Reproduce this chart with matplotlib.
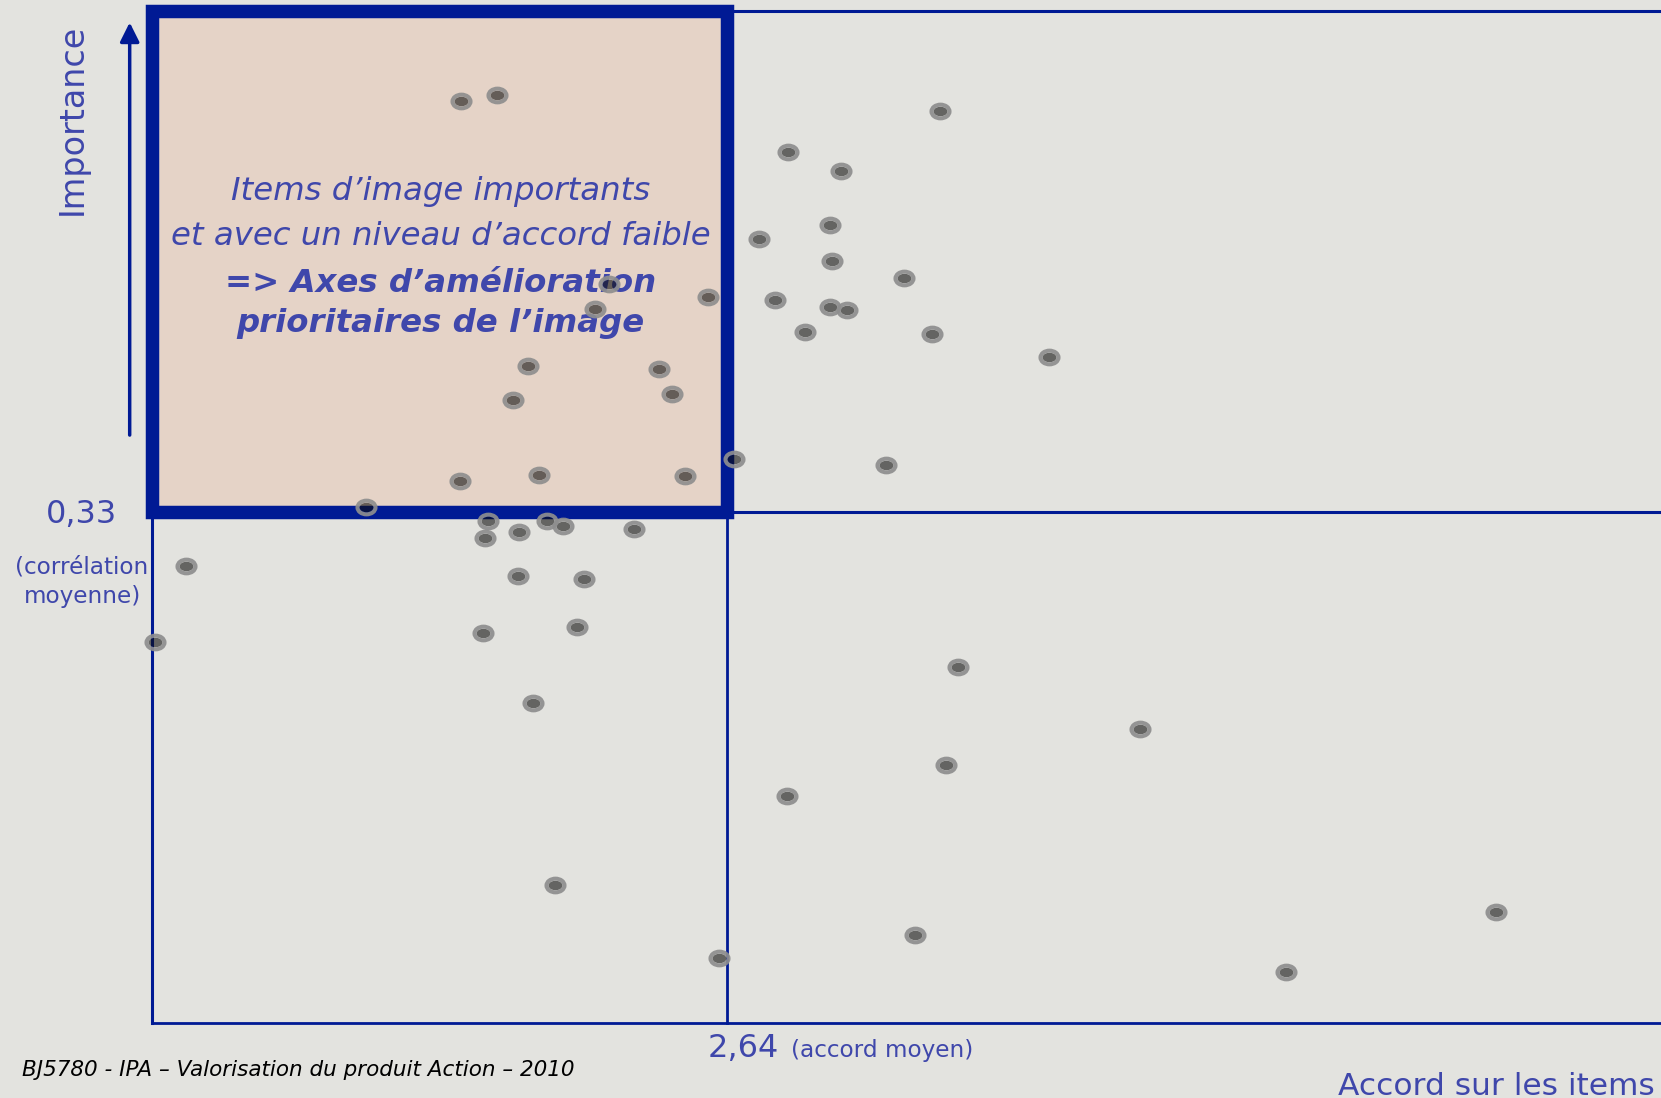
import matplotlib
matplotlib.use('Agg')
import matplotlib.pyplot as plt
from matplotlib.patches import Rectangle
from matplotlib.path import Path
from matplotlib.transforms import Affine2D

# one point per image item: mean agreement (x) and importance / correlation (y)
accord = [2.344, 2.384, 2.509, 2.493, 2.618, 2.418, 2.564, 2.402, 2.579, 2.648,
          2.343, 2.431, 2.593, 2.238, 2.877, 2.707, 2.766, 2.754, 2.675, 2.756,
          2.836, 2.693, 2.754, 2.773, 2.726, 2.868, 2.998, 2.817, 2.374, 2.439,
          2.457, 2.536, 2.371, 2.408, 2.038, 2.407, 2.481, 2.004, 2.368, 2.473,
          2.424, 2.448, 2.897, 2.883, 2.706, 2.849, 3.099, 2.631, 3.261, 3.495]
importance = [0.595, 0.599, 0.477, 0.461, 0.469, 0.424, 0.422, 0.402, 0.406, 0.364,
              0.350, 0.354, 0.353, 0.333, 0.589, 0.562, 0.550, 0.515, 0.506, 0.492,
              0.481, 0.467, 0.462, 0.460, 0.446, 0.445, 0.430, 0.360, 0.324, 0.324,
              0.321, 0.319, 0.313, 0.317, 0.295, 0.289, 0.287, 0.246, 0.252, 0.256,
              0.207, 0.089, 0.230, 0.167, 0.147, 0.057, 0.190, 0.042, 0.033, 0.072]

accord_moyen = 2.64
correlation_moyenne = 0.33
accord_label = "2,64"
correlation_label = "0,33"

x_min, x_max = 2.0, 3.70
y_min, y_max = 0.0, 0.653

navy = '#001A94'
blue = '#3F47AB'
bg = '#E3E3DF'
peach = '#E5D3C7'

plt.rcParams['font.family'] = 'DejaVu Sans'

fig = plt.figure(figsize=(16.61, 10.98), dpi=100, facecolor=bg)
ax = fig.add_axes([0, 0, 1, 1])
ax.set_facecolor(bg)
ax.set_xlim(1.8313, 3.6782)
ax.set_ylim(-0.0481, 0.6603)
ax.axis('off')

# quadrant lines
ax.plot([x_min, x_max], [y_min, y_min], color=navy, lw=2.0, zorder=2)
ax.plot([x_min, x_min], [y_min, correlation_moyenne], color=navy, lw=2.2, zorder=2)
ax.plot([accord_moyen, accord_moyen], [y_min, correlation_moyenne], color=navy, lw=2.0, zorder=2)
ax.plot([accord_moyen, x_max], [correlation_moyenne, correlation_moyenne], color=navy, lw=2.2, zorder=2)
ax.plot([accord_moyen, x_max], [y_max, y_max], color=navy, lw=2.2, zorder=2)

# highlighted quadrant
box = Rectangle((x_min, correlation_moyenne), accord_moyen - x_min, y_max - correlation_moyenne,
                facecolor=peach, edgecolor=navy, lw=9.7, joinstyle='miter', zorder=3)
ax.add_patch(box)

# axis arrows
ax.annotate('', xy=(1.9755, 0.6458), xytext=(1.9755, 0.3796),
            arrowprops=dict(arrowstyle='-|>', color=navy, lw=2.5, mutation_scale=29,
                            shrinkA=0, shrinkB=0), zorder=2)
ax.annotate('', xy=(3.694, -0.0135), xytext=(3.292, -0.0135),
            arrowprops=dict(arrowstyle='-|>', color=navy, lw=2.3, mutation_scale=29,
                            shrinkA=0, shrinkB=0), zorder=2)

# labels
ax.text(1.9114, 0.5835, "Importance", rotation=90, ha='center', va='center',
        color=blue, fontsize=24)
ax.text(3.3190, -0.0461, "Accord sur les items", ha='left', va='baseline',
        color=blue, fontsize=22.5)

ax.text(1.9215, 0.3227, correlation_label, ha='center', va='baseline', color=blue, fontsize=23)
ax.text(1.9225, 0.2904, "(corrélation", ha='center', va='baseline', color=blue, fontsize=16.7)
ax.text(1.9225, 0.2710, "moyenne)", ha='center', va='baseline', color=blue, fontsize=16.7)

ax.text(2.6180, -0.0218, accord_label, ha='left', va='baseline', color=blue, fontsize=23)
ax.text(2.7106, -0.0218, "(accord moyen)", ha='left', va='baseline', color=blue, fontsize=16.7)

ax.text(2.3210, 0.5313, "Items d’image importants", ha='center', va='baseline',
        color=blue, fontsize=23.3, style='italic', zorder=4)
ax.text(2.3210, 0.5023, "et avec un niveau d’accord faible", ha='center', va='baseline',
        color=blue, fontsize=23.3, style='italic', zorder=4)
ax.text(2.3210, 0.4721, "=> Axes d’amélioration", ha='center', va='baseline',
        color=blue, fontsize=23.3, style='italic', weight='bold', zorder=4)
ax.text(2.3210, 0.4463, "prioritaires de l’image", ha='center', va='baseline',
        color=blue, fontsize=23.3, style='italic', weight='bold', zorder=4)

ax.text(1.8561, -0.0339, "BJ5780 - IPA – Valorisation du produit Action – 2010",
        ha='left', va='baseline', color='black', fontsize=15.5, style='italic')

# elliptic markers: grey ring with a translucent dark centre
ring = Path.unit_circle().transformed(Affine2D().scale(1.0, 0.76))
core = Path.unit_circle().transformed(Affine2D().scale(1.0, 0.68))
ax.plot(accord, importance, ls='none', marker=core, ms=10.1, mfc='#0F0F0F',
        mec='none', alpha=0.6, zorder=5)
ax.plot(accord, importance, ls='none', marker=ring, ms=13.0, mfc='none',
        mec='#8E8E8E', mew=2.9, alpha=0.92, zorder=6)

fig.savefig('out.png', dpi=100, facecolor=bg)
